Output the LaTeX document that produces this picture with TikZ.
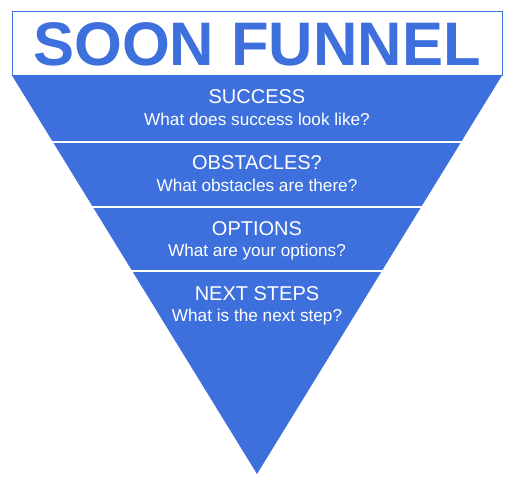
\documentclass[tikz,border=0pt]{standalone}
\usepackage{fontspec}
\setmainfont{Liberation Sans}
\definecolor{funnelblue}{RGB}{61,112,220}
\begin{document}
\begin{tikzpicture}[x=1pt,y=1pt,
  head/.style={anchor=base,text=white,font=\fontsize{20}{24}\selectfont,inner sep=0pt},
  sub/.style={anchor=base,text=white,font=\fontsize{17.2}{20}\selectfont,inner sep=0pt},
  gapline/.style={draw=white,line width=2pt}]
\fill[white] (0,0) rectangle (516,483);
\useasboundingbox (0,0) rectangle (516,483);
% title box
\node[draw=funnelblue,line width=1.2pt,minimum width=490pt,minimum height=64pt,inner sep=0pt,anchor=north west] (title) at (12,472) {};
\node[text=funnelblue,font=\bfseries\fontsize{61.5}{70}\selectfont,anchor=base,inner sep=0pt] (titletext) at (257,417) {SOON FUNNEL};
% funnel
\coordinate (tl) at (12,407.5);
\coordinate (tr) at (502,407.5);
\coordinate (apex) at (257,9);
\fill[funnelblue] (tl) -- (tr) -- (apex) -- cycle;
\draw[gapline] (0,341) -- (516,341);
\draw[gapline] (0,276) -- (516,276);
\draw[gapline] (0,212) -- (516,212);
% texts
\node[head] (h1) at (257,379.3) {SUCCESS};
\node[sub] (s1) at (257,357.7) {What does success look like?};
\node[head] (h2) at (257,313.7) {OBSTACLES?};
\node[sub] (s2) at (257,292) {What obstacles are there?};
\node[head] (h3) at (257,248) {OPTIONS};
\node[sub] (s3) at (257,226.3) {What are your options?};
\node[head] (h4) at (257,182.3) {NEXT STEPS};
\node[sub] (s4) at (257,161.3) {What is the next step?};
\end{tikzpicture}
\end{document}
